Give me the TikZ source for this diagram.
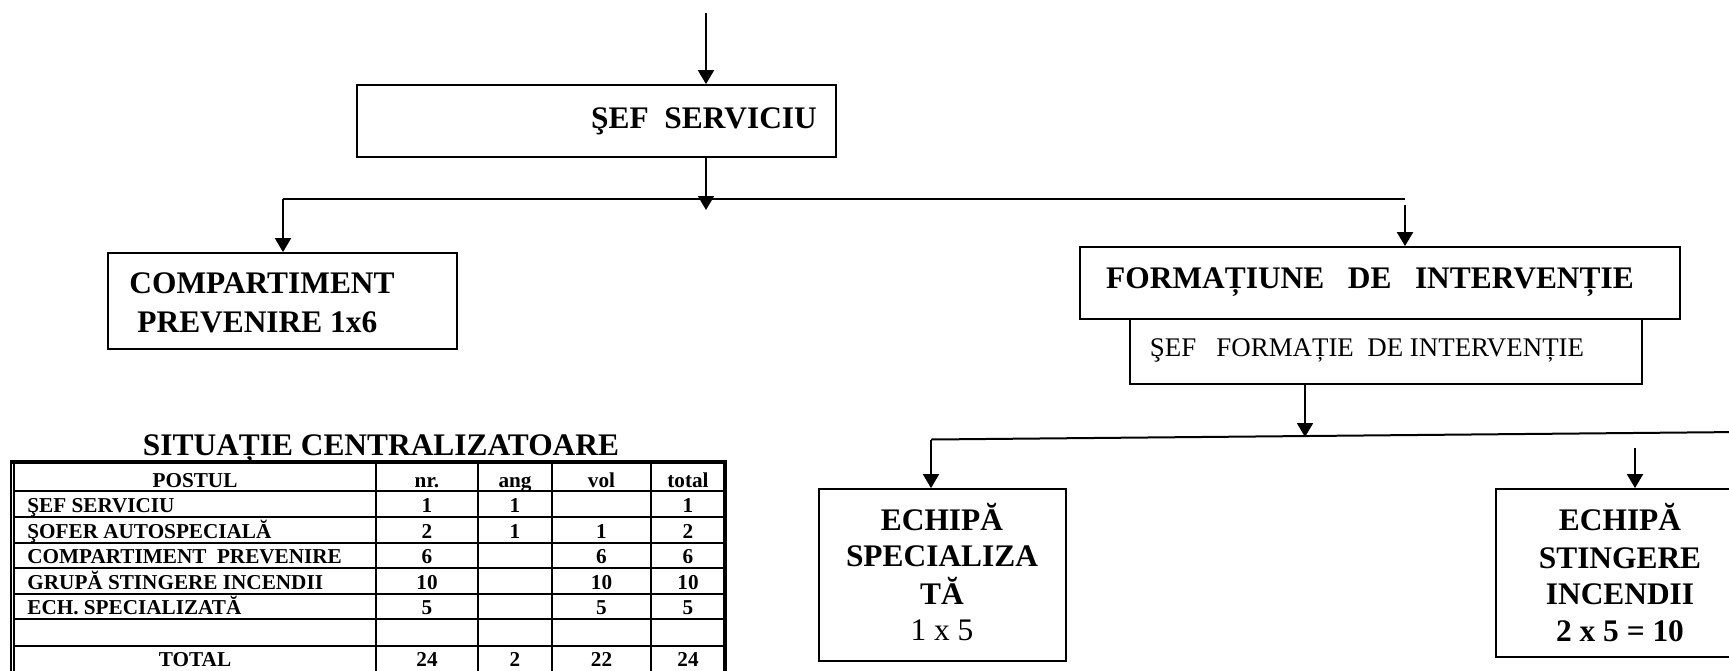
\documentclass[tikz,border=0pt]{standalone}
\usepackage{fontspec}
\setmainfont{Liberation Serif}
\usetikzlibrary{arrows.meta,positioning}

\begin{document}
\begin{tikzpicture}
[x=0.5pt,y=-0.5pt,
  boxdecorate/.style={draw,line width=0.9pt,inner sep=0pt},%
  arrowdecorate/.style={->,>={Triangle[length=7pt,width=8pt]},line width=1pt},%
  linedecorate/.style={-,line width=1pt},%
  headtext/.style={font=\fontsize{15.7}{18}\selectfont\bfseries,inner sep=0pt,anchor=base},%
  plaintext/.style={font=\fontsize{13.45}{16}\selectfont,inner sep=0pt,anchor=base},%
  bigplain/.style={font=\fontsize{15.7}{18}\selectfont,inner sep=0pt,anchor=base},%
  celltext/.style={font=\fontsize{10.6}{12}\selectfont\bfseries,inner sep=0pt,anchor=base},%
  gridthin/.style={line width=0.8pt},%
  gridthick/.style={line width=2pt}]
\useasboundingbox (0,0) rectangle (1729,670);
%% boxes
\foreach \nodename/\x/\y/\w/\h in {sef/596.5/121/239.5/36,
  comp/282.5/301/174.5/48, form/1380/283/300/36,
  sefform/1386/351.5/256/32.5, echspec/942.5/575/123.5/86,
  echsting/1628/573/132/84} {
  \node (\nodename) at (\x,\y) [boxdecorate,minimum width=\w pt,minimum height=\h pt] {};
}
%% box texts
\node (sefserv) [headtext] at (704,128) {ŞEF~~SERVICIU};
\node (comptop) [headtext,anchor=base west] at (129,293) {COMPARTIMENT};
\node (compbot) [headtext,anchor=base west] at (137,332) {PREVENIRE 1x6};
\node (formtext) [headtext] at (1370,288) {FORMAȚIUNE~~~DE~~~INTERVENȚIE};
\node (sefformtext) [plaintext] at (1367,356) {ŞEF~~~FORMAȚIE~~DE INTERVENȚIE};
\foreach \linetext/\ybase [count=\i] in {ECHIPĂ/530, SPECIALIZA/566, TĂ/604} {
  \node (spec\i) [headtext] at (942,\ybase) {\linetext};
}
\node (spec4) [bigplain] at (942,640) {1 x 5};
\foreach \linetext/\ybase [count=\i] in {ECHIPĂ/530, STINGERE/568,
  INCENDII/604, 2 x 5 = 10/641} {
  \node (sting\i) [headtext] at (1620,\ybase) {\linetext};
}
%% connector points
\coordinate (top) at (706,13);
\coordinate (busdown) at (706,210);
\coordinate (busL) at (283,199);
\coordinate (busR) at (1405,199);
\coordinate (formin) at (1405,205);
\coordinate (subdown) at (1305,437);
\coordinate (subL) at (931,439.5);
\coordinate (subR) at (1740,432);
\coordinate (stingin) at (1635,448);
%% edges or lines
\draw[arrowdecorate] (top) -- (top |- sef.north);
\draw[arrowdecorate] (top |- sef.south) -- (busdown);
\draw[linedecorate] (busL) -- (busR);
\draw[arrowdecorate] (busL) -- (busL |- comp.north);
\draw[arrowdecorate] (formin) -- (formin |- form.north);
\draw[arrowdecorate] (subdown |- sefform.south) -- (subdown);
\draw[linedecorate] (subL) -- (subR);
\draw[arrowdecorate] (subL) -- (subL |- echspec.north);
\draw[arrowdecorate] (stingin) -- (stingin |- echsting.north);
%% table
\node (sittitle) [headtext] at (381,455) {SITUAȚIE CENTRALIZATOARE};
\draw[gridthin] (10.7,462) -- (10.7,672) (14,462) -- (14,672);
\foreach \ygrid in {491,517,543,568,594,619,646} {
  \draw[gridthin] (14,\ygrid) -- (725,\ygrid);
}
\foreach \xgrid in {376,478,552,651} {
  \draw[gridthin] (\xgrid,462) -- (\xgrid,672);
}
\draw[gridthick] (10,462) -- (725,462) -- (725,672);
\node (posthead) [celltext] at (195,487) {POSTUL};
\foreach \colname/\x [count=\i] in {nr./427, ang/515, vol/601.5, total/688} {
  \node (head\i) [celltext] at (\x,487) {\colname};
}
\foreach \postname/\ybase/\nrval/\angval/\volval/\totval [count=\i] in {
  ŞEF SERVICIU/512/1/1//1, ŞOFER AUTOSPECIALĂ/538/2/1/1/2,
  COMPARTIMENT~~PREVENIRE/563/6//6/6, GRUPĂ STINGERE INCENDII/589/10//10/10,
  ECH. SPECIALIZATĂ/614/5//5/5} {
  \node (post\i) [celltext,anchor=base west] at (27,\ybase) {\postname};
  \node (nr\i) [celltext] at (427,\ybase) {\nrval};
  \node (ang\i) [celltext] at (515,\ybase) {\angval};
  \node (vol\i) [celltext] at (601.5,\ybase) {\volval};
  \node (tot\i) [celltext] at (688,\ybase) {\totval};
}
\node (totalpost) [celltext] at (195,666) {TOTAL};
\foreach \val/\x [count=\i] in {24/427, 2/515, 22/601.5, 24/688} {
  \node (sum\i) [celltext] at (\x,666) {\val};
}
\end{tikzpicture}
\end{document}
